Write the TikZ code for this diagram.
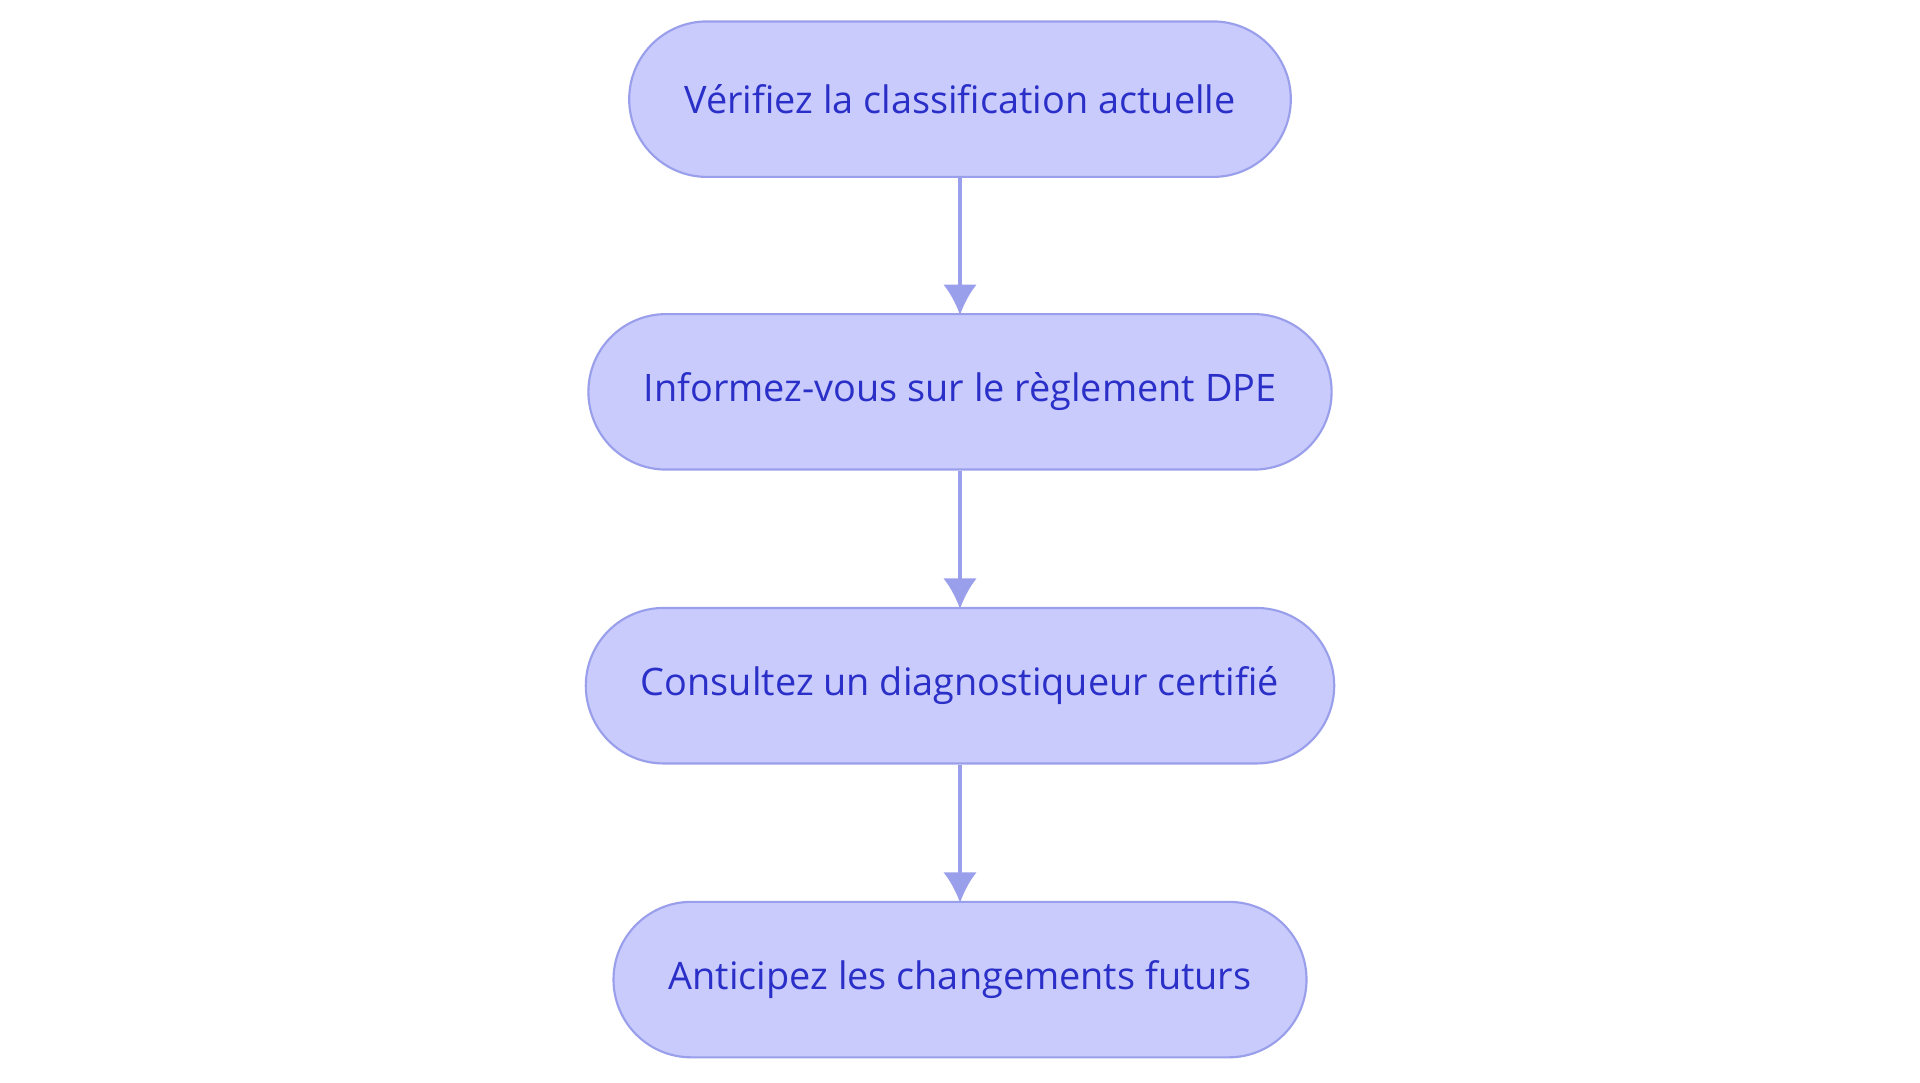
\documentclass[tikz,border=0pt]{standalone}
\usepackage{fontspec}
\setmainfont{Open Sans}
\usetikzlibrary{positioning,arrows.meta}
\definecolor{stepfill}{HTML}{C9CBFD}
\definecolor{stepline}{HTML}{9A9FEB}
\definecolor{steptext}{HTML}{2A2FC8}
\begin{document}
\begin{tikzpicture}[x=0.02cm,y=-0.02cm,
    stepbox/.style={draw=stepline,fill=stepfill,line width=1pt,rounded corners=1.27cm,
      minimum height=2.54cm,inner xsep=0.9cm,text=steptext,font=\fontsize{17.6}{20}\selectfont},
    flow/.style={-{Latex[length=0.5cm,width=0.55cm]},draw=stepline,line width=1.8pt,shorten >=-1pt}]
  \useasboundingbox (0,0) rectangle (1568,884);
  % Steps
  \node[stepbox] (S1) at (784,81) {Vérifiez la classification actuelle};
  \node[stepbox] (S2) at (784,320) {Informez-vous sur le règlement DPE};
  \node[stepbox] (S3) at (784,560) {Consultez un diagnostiqueur certifié};
  \node[stepbox] (S4) at (784,800) {Anticipez les changements futurs};
  % Connections
  \foreach \a/\b in {S1/S2,S2/S3,S3/S4} \draw[flow] (\a) -- (\b);
\end{tikzpicture}
\end{document}
